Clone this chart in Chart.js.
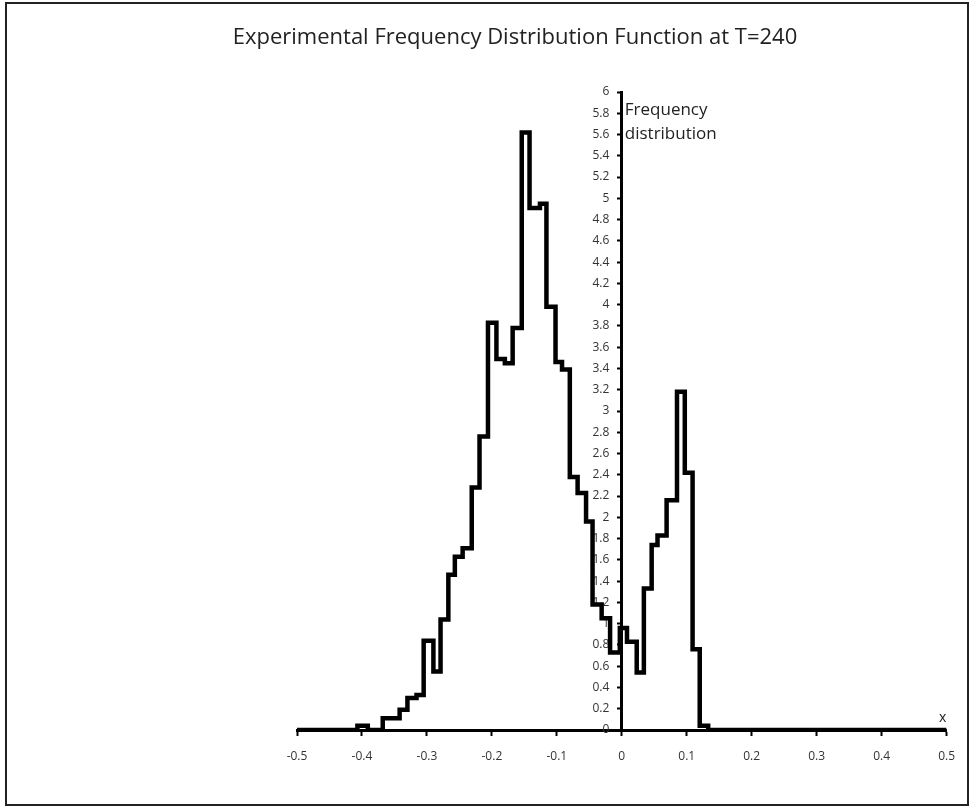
<!DOCTYPE html>
<html>
<head>
<meta charset="utf-8">
<title>Experimental Frequency Distribution Function at T=240</title>
<script src="https://cdn.jsdelivr.net/npm/chart.js@4.4.1/dist/chart.umd.min.js"></script>
<style>
  html, body { margin: 0; padding: 0; background: #fff; }
  #wrap { position: relative; width: 970px; height: 807px; }
</style>
</head>
<body>
<div id="wrap"><canvas id="freqChart" width="970" height="807"></canvas></div>
<script>
// bin edges (left edge of each step)
var binEdges = [-0.5, -0.407, -0.391, -0.368, -0.342, -0.330, -0.316, -0.305, -0.290, -0.279,
  -0.267, -0.257, -0.245, -0.231, -0.219, -0.206, -0.193, -0.180, -0.168, -0.154,
  -0.142, -0.126, -0.116, -0.102, -0.092, -0.080, -0.068, -0.055, -0.045, -0.031,
  -0.018, -0.003, 0.008, 0.023, 0.034, 0.046, 0.055, 0.069, 0.085, 0.097,
  0.109, 0.120, 0.133, 0.5];
// frequency value of each step (held from its edge to the next one)
var frequency = [0, 0.04, 0, 0.11, 0.19, 0.30, 0.33, 0.84, 0.55, 1.04,
  1.46, 1.63, 1.71, 2.28, 2.76, 3.83, 3.49, 3.45, 3.78, 5.62,
  4.91, 4.95, 3.98, 3.46, 3.39, 2.38, 2.23, 1.96, 1.18, 1.05,
  0.73, 0.96, 0.83, 0.54, 1.33, 1.74, 1.83, 2.16, 3.18, 2.42,
  0.76, 0.04, 0, 0];

var chartTitle = "Experimental Frequency Distribution Function at T=240";
var yAxisTitle = ["Frequency", "distribution"];
var xAxisTitle = "x";

var xMin = -0.5, xMax = 0.5, xStep = 0.1;
var yMin = 0, yMax = 6, yStep = 0.2;

var points = binEdges.map(function (x, i) {
  return { x: x, y: frequency[i] };
});

function fmt(v) {
  return String(Math.round(v * 10) / 10);
}

// frame, title + axis captions
var extras = {
  id: "extras",
  afterDraw: function (chart) {
    var ctx = chart.ctx;
    var xs = chart.scales.x, ys = chart.scales.y;
    ctx.save();
    ctx.strokeStyle = "#222";
    ctx.lineWidth = 2;
    ctx.strokeRect(6, 3, 962, 802);

    ctx.fillStyle = "#222";
    ctx.textBaseline = "middle";
    ctx.textAlign = "center";
    ctx.font = "22px 'Open Sans'";
    ctx.fillText(chartTitle, 515, 38);

    ctx.font = "17px 'Open Sans'";
    ctx.textAlign = "left";
    var ax = xs.getPixelForValue(0) + 3;
    ctx.fillText(yAxisTitle[0], ax, ys.getPixelForValue(5.83));
    ctx.fillText(yAxisTitle[1], ax, ys.getPixelForValue(5.6));

    ctx.font = "14px 'Open Sans'";
    ctx.textAlign = "center";
    ctx.fillText(xAxisTitle, xs.getPixelForValue(0.494), ys.getPixelForValue(0.11));
    ctx.restore();
  }
};

var ctx = document.getElementById("freqChart").getContext("2d");

var myChart = new Chart(ctx, {
  type: "scatter",
  data: {
    datasets: [
      {
        label: "Frequency distribution",
        data: points,
        showLine: true,
        stepped: "before",
        borderColor: "#000",
        borderWidth: 4.5,
        pointRadius: 0,
        fill: false,
      },
    ],
  },
  options: {
    responsive: false,
    animation: false,
    layout: {
      padding: { left: 297, right: 23, top: 92, bottom: 77 },
    },
    plugins: {
      legend: { display: false },
      tooltip: { enabled: false },
      title: { display: false },
    },
    scales: {
      x: {
        type: "linear",
        position: { y: 0 },
        min: xMin,
        max: xMax,
        border: { color: "#000", width: 3 },
        grid: { drawOnChartArea: false, tickLength: 4, tickWidth: 2, color: "#000" },
        ticks: {
          stepSize: xStep,
          color: "#333",
          font: { family: "'Open Sans'", size: 12 },
          padding: 15,
          maxRotation: 0,
          callback: function (v) { return fmt(v); },
        },
      },
      y: {
        type: "linear",
        position: { x: 0 },
        min: yMin,
        max: yMax,
        border: { color: "#000", width: 3 },
        grid: { drawOnChartArea: false, tickLength: 3, tickWidth: 2, color: "#000" },
        ticks: {
          stepSize: yStep,
          color: "#333",
          font: { family: "'Open Sans'", size: 12 },
          autoSkip: false,
          callback: function (v) { return fmt(v) + "    "; },
        },
      },
    },
  },
  plugins: [extras],
});
</script>
</body>
</html>
